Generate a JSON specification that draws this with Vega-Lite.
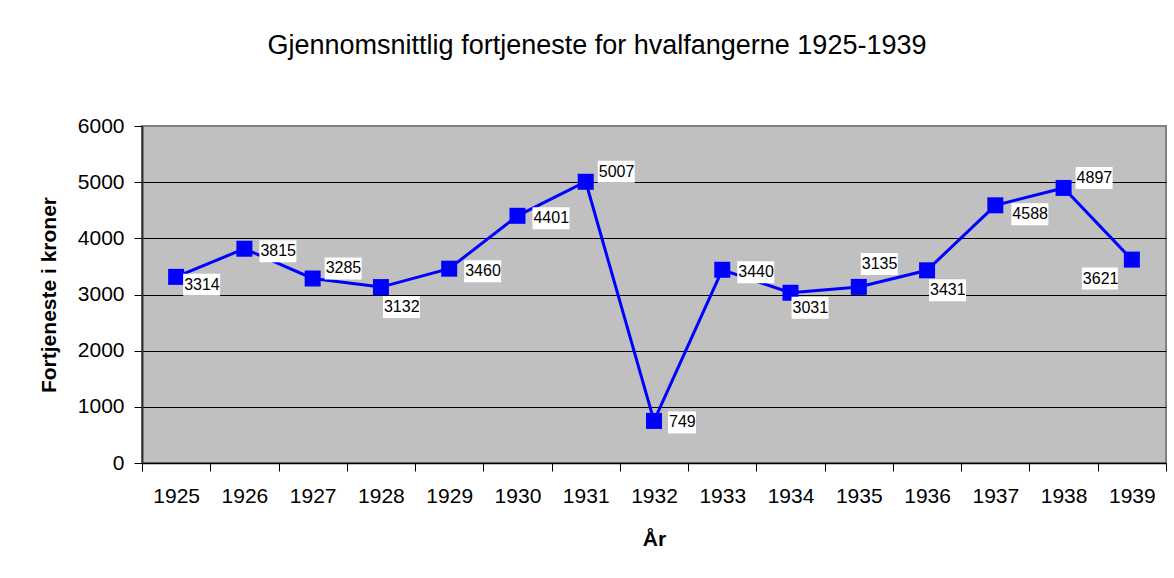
{
  "$schema": "https://vega.github.io/schema/vega-lite/v6.json",
  "autosize": {"type": "none"},
  "width": 1024,
  "height": 337,
  "padding": {"left": 142, "top": 126, "right": 8, "bottom": 115},
  "background": "white",
  "config": {
    "font": "Liberation Sans",
    "view": {"fill": "#C0C0C0", "stroke": "#808080", "strokeWidth": 2}
  },
  "title": {
    "text": "Gjennomsnittlig fortjeneste for hvalfangerne 1925-1939",
    "fontSize": 27,
    "fontWeight": "normal",
    "font": "Liberation Sans",
    "color": "black",
    "anchor": "middle",
    "frame": "group",
    "dx": -57,
    "offset": 55
  },
  "data": {
    "values": [
      {"year": 1925, "value": 3314},
      {"year": 1926, "value": 3815},
      {"year": 1927, "value": 3285},
      {"year": 1928, "value": 3132},
      {"year": 1929, "value": 3460},
      {"year": 1930, "value": 4401},
      {"year": 1931, "value": 5007},
      {"year": 1932, "value": 749},
      {"year": 1933, "value": 3440},
      {"year": 1934, "value": 3031},
      {"year": 1935, "value": 3135},
      {"year": 1936, "value": 3431},
      {"year": 1937, "value": 4588},
      {"year": 1938, "value": 4897},
      {"year": 1939, "value": 3621}
    ]
  },
  "encoding": {
    "x": {
      "field": "year",
      "type": "ordinal",
      "bandPosition": 0.5,
      "scale": {"type": "band", "paddingInner": 0, "paddingOuter": 0},
      "axis": {
        "title": "År",
        "titleFontSize": 21,
        "titleFontWeight": "bold",
        "titleColor": "black",
        "titlePadding": 22,
        "labelFontSize": 21,
        "labelColor": "black",
        "labelAngle": 0,
        "labelPadding": 14,
        "tickBand": "extent",
        "tickSize": 8,
        "tickColor": "black",
        "domainColor": "black",
        "domainWidth": 1.5,
        "grid": false
      }
    },
    "y": {
      "field": "value",
      "type": "quantitative",
      "scale": {"domain": [0, 6000], "nice": false},
      "axis": {
        "title": "Fortjeneste i kroner",
        "titleFontSize": 21,
        "titleFontWeight": "bold",
        "titleColor": "black",
        "titlePadding": 18,
        "format": "d",
        "labelFontSize": 21,
        "labelColor": "black",
        "labelPadding": 10,
        "labelFlush": false,
        "labelOverlap": false,
        "tickSize": 8,
        "tickColor": "black",
        "values": [0, 1000, 2000, 3000, 4000, 5000, 6000],
        "grid": true,
        "gridColor": {"condition": {"test": "datum.value === 6000", "value": "#808080"}, "value": "black"},
        "gridWidth": 1,
        "domainColor": "#333333",
        "domainWidth": 2
      }
    }
  },
  "layer": [
    {"mark": {"type": "line", "color": "#0000FF", "strokeWidth": 3}},
    {"mark": {"type": "point", "shape": "square", "size": 256, "filled": true, "color": "#0000FF", "opacity": 1}},
    {
      "transform": [{"filter": {"field": "year", "oneOf": [1926, 1929, 1930, 1933]}}],
      "layer": [
        {"mark": {"type": "point", "shape": "M15,-8.5h37v22h-37Z", "size": 4, "filled": true, "fill": "white", "strokeWidth": 0, "opacity": 1}},
        {"mark": {"type": "text", "align": "left", "baseline": "middle", "dx": 16, "dy": 2.5, "fontSize": 16, "color": "black"}, "encoding": {"text": {"field": "value", "type": "quantitative", "format": "d"}}}
      ]
    },
    {
      "transform": [{"filter": {"field": "year", "oneOf": [1932]}}],
      "layer": [
        {"mark": {"type": "point", "shape": "M14,-9.5h28v22h-28Z", "size": 4, "filled": true, "fill": "white", "strokeWidth": 0, "opacity": 1}},
        {"mark": {"type": "text", "align": "left", "baseline": "middle", "dx": 15, "dy": 1.5, "fontSize": 16, "color": "black"}, "encoding": {"text": {"field": "value", "type": "quantitative", "format": "d"}}}
      ]
    },
    {
      "transform": [{"filter": {"field": "year", "oneOf": [1937]}}],
      "layer": [
        {"mark": {"type": "point", "shape": "M16,-2h37v22h-37Z", "size": 4, "filled": true, "fill": "white", "strokeWidth": 0, "opacity": 1}},
        {"mark": {"type": "text", "align": "left", "baseline": "middle", "dx": 17, "dy": 9, "fontSize": 16, "color": "black"}, "encoding": {"text": {"field": "value", "type": "quantitative", "format": "d"}}}
      ]
    },
    {
      "transform": [{"filter": {"field": "year", "oneOf": [1927, 1931, 1938]}}],
      "layer": [
        {"mark": {"type": "point", "shape": "M12,-21h37v22h-37Z", "size": 4, "filled": true, "fill": "white", "strokeWidth": 0, "opacity": 1}},
        {"mark": {"type": "text", "align": "left", "baseline": "middle", "dx": 13, "dy": -10, "fontSize": 16, "color": "black"}, "encoding": {"text": {"field": "value", "type": "quantitative", "format": "d"}}}
      ]
    },
    {
      "transform": [{"filter": {"field": "year", "oneOf": [1925]}}],
      "layer": [
        {"mark": {"type": "point", "shape": "M7,-3h37v22h-37Z", "size": 4, "filled": true, "fill": "white", "strokeWidth": 0, "opacity": 1}},
        {"mark": {"type": "text", "align": "left", "baseline": "middle", "dx": 8, "dy": 8, "fontSize": 16, "color": "black"}, "encoding": {"text": {"field": "value", "type": "quantitative", "format": "d"}}}
      ]
    },
    {
      "transform": [{"filter": {"field": "year", "oneOf": [1928, 1936]}}],
      "layer": [
        {"mark": {"type": "point", "shape": "M2,9h37v22h-37Z", "size": 4, "filled": true, "fill": "white", "strokeWidth": 0, "opacity": 1}},
        {"mark": {"type": "text", "align": "left", "baseline": "middle", "dx": 3, "dy": 20, "fontSize": 16, "color": "black"}, "encoding": {"text": {"field": "value", "type": "quantitative", "format": "d"}}}
      ]
    },
    {
      "transform": [{"filter": {"field": "year", "oneOf": [1934]}}],
      "layer": [
        {"mark": {"type": "point", "shape": "M1,4h37v22h-37Z", "size": 4, "filled": true, "fill": "white", "strokeWidth": 0, "opacity": 1}},
        {"mark": {"type": "text", "align": "left", "baseline": "middle", "dx": 2, "dy": 15, "fontSize": 16, "color": "black"}, "encoding": {"text": {"field": "value", "type": "quantitative", "format": "d"}}}
      ]
    },
    {
      "transform": [{"filter": {"field": "year", "oneOf": [1935]}}],
      "layer": [
        {"mark": {"type": "point", "shape": "M2,-34h37v22h-37Z", "size": 4, "filled": true, "fill": "white", "strokeWidth": 0, "opacity": 1}},
        {"mark": {"type": "text", "align": "left", "baseline": "middle", "dx": 3, "dy": -23, "fontSize": 16, "color": "black"}, "encoding": {"text": {"field": "value", "type": "quantitative", "format": "d"}}}
      ]
    },
    {
      "transform": [{"filter": {"field": "year", "oneOf": [1939]}}],
      "layer": [
        {"mark": {"type": "point", "shape": "M-50,8h36v22h-36Z", "size": 4, "filled": true, "fill": "white", "strokeWidth": 0, "opacity": 1}},
        {"mark": {"type": "text", "align": "left", "baseline": "middle", "dx": -49, "dy": 19, "fontSize": 16, "color": "black"}, "encoding": {"text": {"field": "value", "type": "quantitative", "format": "d"}}}
      ]
    }
  ]
}
